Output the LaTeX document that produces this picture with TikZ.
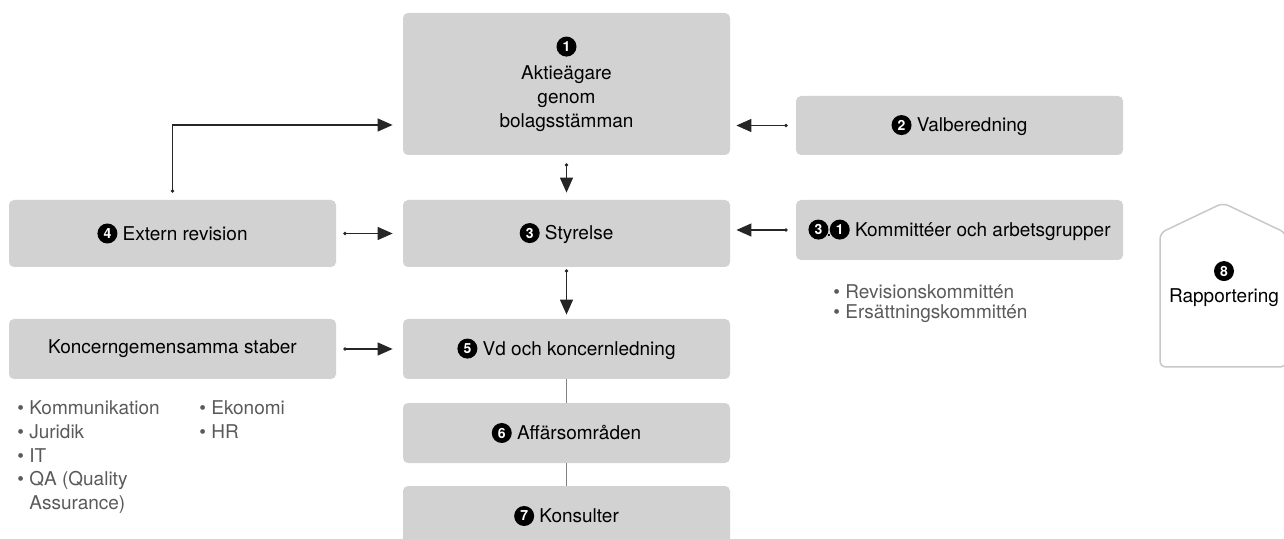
\documentclass[tikz,border=0pt]{standalone}
\usepackage{fontspec}
\setmainfont{TeX Gyre Heros}
\usepackage{xcolor}
\usetikzlibrary{arrows.meta}

\definecolor{boxgray}{HTML}{D2D2D2}
\definecolor{listgray}{HTML}{5A5A5A}
\definecolor{framegray}{HTML}{C8C8C8}
\definecolor{linkgray}{HTML}{808080}

\tikzset{
    numbadge/.style={rectangle, fill=none, draw=none, text=white, inner sep=0pt,
        minimum width=0pt, minimum height=0pt, font=\bfseries\fontsize{7}{7}\selectfont},
}
\newcommand{\badge}[1]{\tikz[baseline=-3.35pt]{\fill[black] (0pt,0pt) circle[radius=5pt]; \node[numbadge] (b) at (0pt,0pt) {#1};}}

\begin{document}
\begin{tikzpicture}[
    x=0.5pt, y=-0.5pt,
    block/.style={rectangle, fill=boxgray, draw=none, rounded corners=2.5pt, align=center, inner sep=0pt,
        minimum width=163.5pt, minimum height=30pt, font=\fontsize{9.5}{12}\selectfont},
    listitem/.style={anchor=base west, inner sep=0pt, text=listgray, font=\fontsize{9.5}{12}\selectfont},
    arrow/.style={{Circle[length=1.6pt]}-{Triangle[length=7.5pt, width=6.5pt]}, line width=0.65pt, draw=black!85},
    plainline/.style={line width=0.65pt, draw=linkgray},
    house/.style={draw=framegray, line width=0.75pt, rounded corners=3pt},
]

\useasboundingbox (0,0) rectangle (1284,539);
\clip (0,0) rectangle (1284,539);

% --- CENTRE COLUMN ---
\node[block, minimum height=71pt] (owners) at (566.5, 84) {\badge{1}\\[1pt]Aktieägare\\genom\\bolagsstämman};
\node[block, minimum height=33.5pt] (board) at (566.5, 233.5) {\badge{3} Styrelse};
\node[block] (ceo) at (566.5, 349) {\badge{5} Vd och koncernledning};
\node[block] (units) at (566.5, 433) {\badge{6} Affärsområden};
\node[block] (consult) at (566.5, 516) {\badge{7} Konsulter};

% --- LEFT COLUMN ---
\node[block, minimum height=33.5pt] (audit) at (172.5, 233.5) {\badge{4} Extern revision};
\node[block] (staff) at (172.5, 349) {Koncerngemensamma staber};

% --- RIGHT COLUMN ---
\node[block, minimum height=29.5pt] (nomcom) at (959.5, 125.5) {\badge{2} Valberedning};
\node[block] (committees) at (959.5, 230) {\badge{3}\kern-1pt.\kern-1pt\badge{1} Kommittéer och arbetsgrupper};

% --- REPORTING ---
\draw[house] (1160, 367) -- (1160, 233) -- (1223, 203) -- (1286, 233) -- (1286, 367) -- cycle;
\node[block, fill=none, minimum width=0pt, minimum height=0pt] (report) at (1224, 284) {\badge{8}\\[0.5pt]Rapportering};

% =======================================================================
% ARROWS
% =======================================================================
\draw[arrow, shorten <=4pt, shorten >=3.5pt] (owners) -- (board);
\draw[arrow, shorten <=1pt, shorten >=2pt] (board) -- (ceo);

\draw[arrow, shorten <=4pt, shorten >=3pt] (nomcom.west) -- (nomcom.west -| owners.east);
\draw[arrow, shorten <=4pt, shorten >=3pt] (committees.west) -- (committees.west -| board.east);

\draw[arrow, shorten <=3.5pt, shorten >=5pt] (audit.east) -- (audit.east -| board.west);
\draw[arrow, shorten <=3.5pt, shorten >=5pt] (audit.north) |- ([yshift=-20.5pt]owners.west);
\draw[arrow, shorten <=3.5pt, shorten >=5pt] (staff.east) -- (staff.east -| ceo.west);

\draw[plainline] (ceo) -- (units);
\draw[plainline] (units) -- (consult);

% =======================================================================
% LISTS
% =======================================================================
\node[listitem] (rev) at (833, 298.5) {\textbullet\ Revisionskommittén};
\node[listitem] (ers) at (833, 318.5) {\textbullet\ Ersättningskommittén};

\node[listitem] (comm) at (17, 414.5) {\textbullet\ Kommunikation};
\node[listitem] (legal) at (17, 438.25) {\textbullet\ Juridik};
\node[listitem] (it) at (17, 462) {\textbullet\ IT};
\node[listitem] (qa) at (17, 485.75) {\textbullet\ QA (Quality};
\node[listitem] (qa2) at (17, 509.5) {\phantom{\textbullet\ }Assurance)};
\node[listitem] (econ) at (199, 414.5) {\textbullet\ Ekonomi};
\node[listitem] (hr) at (199, 438.25) {\textbullet\ HR};

\end{tikzpicture}
\end{document}
